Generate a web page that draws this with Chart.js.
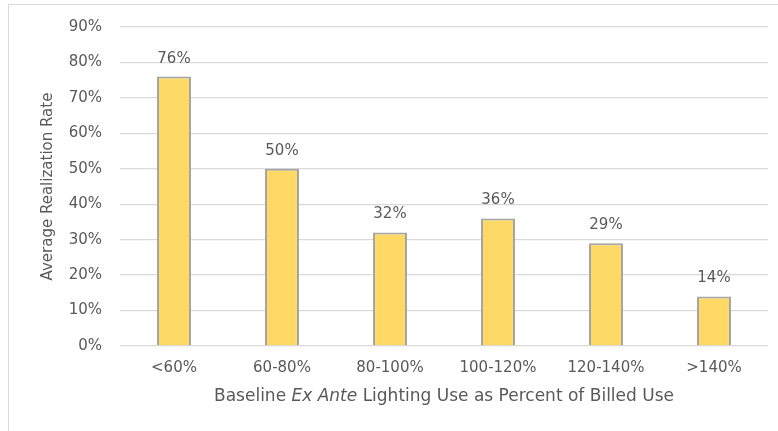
<!DOCTYPE html>
<html>
<head>
<meta charset="utf-8">
<script src="https://cdn.jsdelivr.net/npm/chart.js@4"></script>
<style>
  html, body { margin: 0; padding: 0; background: #fff; }
  #wrap { position: relative; width: 778px; height: 431px; overflow: hidden; }
  #frame { position: absolute; left: 8px; top: 4px; width: 900px; height: 600px; border: 1px solid #D9D9D9; }
  canvas { position: absolute; left: 0; top: 0; }
</style>
</head>
<body>
<div id="wrap">
  <div id="frame"></div>
  <canvas id="c" width="778" height="431"></canvas>
</div>
<script>
// Billed-use bins and their average realization rates (%)
const categories = ['<60%', '60-80%', '80-100%', '100-120%', '120-140%', '>140%'];
const realizationRate = [76, 50, 32, 36, 29, 14];
const yTickValues = [0, 10, 20, 30, 40, 50, 60, 70, 80, 90];

const TEXT = '#595959';
const FONT = '"DejaVu Sans", "Open Sans", sans-serif';

// Value labels above each bar
const barLabels = {
  id: 'barLabels',
  afterDatasetsDraw(chart) {
    const ctx = chart.ctx;
    const meta = chart.getDatasetMeta(0);
    ctx.save();
    ctx.fillStyle = TEXT;
    ctx.font = '15px ' + FONT;
    ctx.textAlign = 'center';
    ctx.textBaseline = 'middle';
    meta.data.forEach((bar, i) => {
      ctx.fillText(realizationRate[i] + '%', bar.x, bar.y - 18);
    });
    ctx.restore();
  }
};

// X-axis title with the italic "Ex Ante" phrase
const xTitle = {
  id: 'xTitle',
  afterDraw(chart) {
    const ctx = chart.ctx;
    const parts = [
      { t: 'Baseline ', f: '17px ' + FONT },
      { t: 'Ex Ante', f: 'italic 17px ' + FONT },
      { t: ' Lighting Use as Percent of Billed Use', f: '17px ' + FONT }
    ];
    ctx.save();
    ctx.fillStyle = TEXT;
    ctx.textBaseline = 'middle';
    ctx.textAlign = 'left';
    let total = 0;
    parts.forEach(p => { ctx.font = p.f; p.w = ctx.measureText(p.t).width; total += p.w; });
    const ca = chart.chartArea;
    let x = (ca.left + ca.right) / 2 - total / 2;
    parts.forEach(p => { ctx.font = p.f; ctx.fillText(p.t, x, 397); x += p.w; });
    ctx.restore();
  }
};

new Chart(document.getElementById('c'), {
  type: 'bar',
  data: {
    labels: categories,
    datasets: [{
      data: realizationRate,
      backgroundColor: '#FFD966',
      borderColor: '#A5A5A5',
      borderWidth: 2,
      borderSkipped: 'bottom',
      barPercentage: 0.315,
      categoryPercentage: 1.0
    }]
  },
  options: {
    responsive: false,
    animation: false,
    layout: { padding: { left: 0, right: 10, top: 26, bottom: 0 } },
    plugins: {
      legend: { display: false },
      tooltip: { enabled: false }
    },
    scales: {
      x: {
        grid: { display: false },
        border: { display: false },
        ticks: { color: TEXT, font: { family: FONT, size: 15 }, padding: 5 },
        afterFit(scale) { scale.height = 85; }
      },
      y: {
        min: 0,
        max: 90,
        afterBuildTicks(scale) { scale.ticks = yTickValues.map(v => ({ value: v })); },
        grid: { color: '#D9D9D9', lineWidth: 1.3, drawTicks: false },
        border: { display: false },
        ticks: {
          color: TEXT,
          font: { family: FONT, size: 15 },
          padding: 18,
          callback: v => v + '%'
        },
        title: {
          display: true,
          text: 'Average Realization Rate',
          color: TEXT,
          font: { family: FONT, size: 15 },
          padding: { top: 39, bottom: 0 }
        },
        afterFit(scale) { scale.width = 120; }
      }
    }
  },
  plugins: [barLabels, xTitle]
});
</script>
</body>
</html>
